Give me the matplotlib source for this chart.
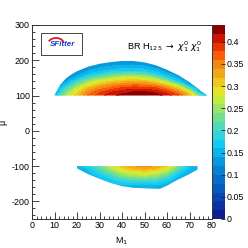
import numpy as np
import matplotlib
matplotlib.use("Agg")
import matplotlib.pyplot as plt
from matplotlib.colors import ListedColormap, BoundaryNorm
from matplotlib.patches import Polygon, Rectangle, Arc
from matplotlib.ticker import MultipleLocator
import matplotlib.colorbar as mcolorbar

plt.rcParams['font.family'] = ['Liberation Sans', 'DejaVu Sans']
plt.rcParams['axes.unicode_minus'] = False

# ---------------- data ----------------
# upper region (mu > 0): rows = mu, columns = M1
m1_up = [10, 15, 20, 25, 30, 35, 40, 45, 50, 55, 60, 65, 70, 75, 80]
mu_up = [100, 110, 120, 130, 140, 150, 160, 170, 180, 190, 200]
br_up = [
    [0.16, 0.25, 0.31, 0.36, 0.39, 0.41, 0.425, 0.435, 0.435, 0.43, 0.41, 0.38, 0.32, 0.22, 0.12],
    [0.12, 0.232, 0.293, 0.346, 0.375, 0.396, 0.41, 0.419, 0.42, 0.411, 0.387, 0.351, 0.282, 0.134, 0.12],
    [0.12, 0.20, 0.268, 0.319, 0.35, 0.369, 0.385, 0.394, 0.391, 0.384, 0.352, 0.307, 0.214, 0.12, 0.12],
    [0.12, 0.162, 0.234, 0.283, 0.317, 0.338, 0.352, 0.359, 0.357, 0.34, 0.303, 0.247, 0.144, 0.12, 0.12],
    [0.12, 0.132, 0.194, 0.245, 0.279, 0.30, 0.312, 0.318, 0.315, 0.29, 0.248, 0.172, 0.12, 0.12, 0.12],
    [0.12, 0.12, 0.152, 0.202, 0.233, 0.256, 0.273, 0.278, 0.268, 0.241, 0.184, 0.141, 0.12, 0.12, 0.12],
    [0.12, 0.12, 0.133, 0.161, 0.185, 0.21, 0.224, 0.227, 0.218, 0.182, 0.149, 0.12, 0.12, 0.12, 0.12],
    [0.12, 0.12, 0.12, 0.139, 0.155, 0.166, 0.175, 0.177, 0.17, 0.154, 0.126, 0.12, 0.12, 0.12, 0.12],
    [0.12, 0.12, 0.12, 0.122, 0.136, 0.146, 0.15, 0.152, 0.148, 0.131, 0.12, 0.12, 0.12, 0.12, 0.12],
    [0.12, 0.12, 0.12, 0.12, 0.12, 0.126, 0.132, 0.133, 0.126, 0.12, 0.12, 0.12, 0.12, 0.12, 0.12],
    [0.12, 0.12, 0.12, 0.12, 0.12, 0.12, 0.12, 0.12, 0.12, 0.12, 0.12, 0.12, 0.12, 0.12, 0.12],
]
# upper region outline: top edge
edge_up_m1 = [10, 12.5, 15, 17.5, 20, 25, 30, 35, 40, 45, 50, 55, 60, 65, 70, 75, 77.8]
edge_up_mu = [100, 130, 148, 160, 169, 182, 190, 195, 198, 198, 194, 186, 173, 158, 138, 113, 100]

# lower region (mu < 0): rows = mu, columns = M1
m1_lo = [20, 25, 30, 35, 40, 45, 50, 55, 60, 65, 70, 75]
mu_lo = [-100, -110, -120, -130, -140, -150, -160, -170]
br_lo = [
    [0.14, 0.18, 0.22, 0.27, 0.31, 0.335, 0.345, 0.335, 0.30, 0.23, 0.16, 0.13],
    [0.13, 0.16, 0.20, 0.245, 0.285, 0.305, 0.315, 0.305, 0.27, 0.20, 0.15, 0.13],
    [0.12, 0.15, 0.18, 0.215, 0.255, 0.275, 0.28, 0.27, 0.235, 0.17, 0.14, 0.13],
    [0.12, 0.14, 0.16, 0.19, 0.225, 0.24, 0.245, 0.235, 0.20, 0.15, 0.13, 0.13],
    [0.12, 0.13, 0.15, 0.17, 0.19, 0.20, 0.205, 0.20, 0.17, 0.14, 0.13, 0.13],
    [0.12, 0.12, 0.14, 0.15, 0.165, 0.17, 0.17, 0.17, 0.15, 0.13, 0.12, 0.12],
    [0.12, 0.12, 0.13, 0.14, 0.14, 0.14, 0.14, 0.14, 0.13, 0.12, 0.12, 0.12],
    [0.12, 0.12, 0.12, 0.12, 0.12, 0.12, 0.12, 0.12, 0.12, 0.12, 0.12, 0.12],
]
# lower region outline: bottom edge
edge_lo_m1 = [20, 25, 30, 35, 40, 45, 50, 55, 57, 60, 65, 70, 73.5, 73.5]
edge_lo_mu = [-106, -123, -136, -148, -157, -161, -163, -164, -164, -155, -138, -122, -110, -100]

z_max = 0.438
cbar_ticks = [0, 0.05, 0.1, 0.15, 0.2, 0.25, 0.3, 0.35, 0.4]

palette = ['#101e8c', '#0a32a2', '#0846b2', '#065ac0', '#066cc8', '#0880d0',
           '#0a98dc', '#0cb4ea', '#14caf2', '#30d4dc', '#50dab8', '#74de90',
           '#9ce468', '#c4ec40', '#e4e428', '#ecc820', '#f0a818', '#f48814',
           '#fc5c08', '#e83400', '#c81400', '#8c0000']

# ---------------- figure ----------------
W = H = 248
fig = plt.figure(figsize=(2.48, 2.48), dpi=100)
ax = fig.add_axes([32 / W, 29 / H, 180 / W, 194 / H])

levels = np.linspace(0, z_max, len(palette) + 1)
cmap = ListedColormap(palette)
norm = BoundaryNorm(levels, cmap.N)

# upper
X, Y = np.meshgrid(m1_up, mu_up)
cs1 = ax.contourf(X, Y, np.array(br_up), levels=levels, cmap=cmap, norm=norm)
poly_up = Polygon(list(zip(edge_up_m1, edge_up_mu)), closed=True,
                  transform=ax.transData, facecolor='none', edgecolor='none')
cs1.set_clip_path(poly_up)

# lower
X2, Y2 = np.meshgrid(m1_lo, mu_lo)
cs2 = ax.contourf(X2, Y2, np.array(br_lo), levels=levels, cmap=cmap, norm=norm)
lo_pts = [(20, -100)] + list(zip(edge_lo_m1, edge_lo_mu))
poly_lo = Polygon(lo_pts, closed=True, transform=ax.transData,
                  facecolor='none', edgecolor='none')
cs2.set_clip_path(poly_lo)

ax.set_xlim(0, 80)
ax.set_ylim(-250, 300)
ax.xaxis.set_major_locator(MultipleLocator(10))
ax.xaxis.set_minor_locator(MultipleLocator(2))
ax.yaxis.set_major_locator(MultipleLocator(100))
ax.yaxis.set_minor_locator(MultipleLocator(20))
ax.tick_params(which='both', direction='in', top=False, right=False,
               labelsize=6.4, width=0.6, color='#222222', pad=1.5)
ax.tick_params(which='major', length=5)
ax.tick_params(which='minor', length=2.5)
for s in ax.spines.values():
    s.set_linewidth(0.7)
    s.set_color('#333333')

ax.set_xlabel('M$_1$', fontsize=6.5, labelpad=1)
ax.xaxis.set_label_coords(0.5, -0.085)
ax.set_ylabel('μ', fontsize=6.5, labelpad=1)
ax.yaxis.set_label_coords(-0.135, 0.5)

# title text
ax.text(127 / W, 1 - 47 / H, r'BR H$_{125}$ $\rightarrow$ $\chi^0_1$ $\chi^0_1$',
        transform=fig.transFigure, fontsize=6.6, ha='left', va='center')

# logo box
fig.patches.append(Rectangle((41 / W, 1 - 55 / H), 41 / W, 22 / H, transform=fig.transFigure,
                             facecolor='white', edgecolor='#444444', linewidth=0.7))
fig.text(62.5 / W, 1 - 45 / H, 'SFitter', fontsize=5.8, color='#1a3cc8',
         fontstyle='italic', fontweight='bold', ha='center', va='center')
fig.patches.append(Arc((56 / W, 1 - 44 / H), 16 / W, 12 / H, theta1=10, theta2=160,
                       transform=fig.transFigure, color='#e02020', linewidth=1.3))

# colorbar
cax = fig.add_axes([213 / W, 29 / H, 12 / W, 194 / H])
cb = mcolorbar.ColorbarBase(cax, cmap=cmap, norm=norm, boundaries=levels,
                            spacing='proportional', orientation='vertical')
cb.set_ticks(cbar_ticks)
cb.set_ticklabels(['%g' % t for t in cbar_ticks])
cb.outline.set_visible(False)
cax.tick_params(direction='in', length=3, width=0.6, labelsize=6.4, pad=1, color='#222222')
cax.minorticks_off()
cax.set_ylim(0, z_max)

fig.savefig('out.png', dpi=100)
